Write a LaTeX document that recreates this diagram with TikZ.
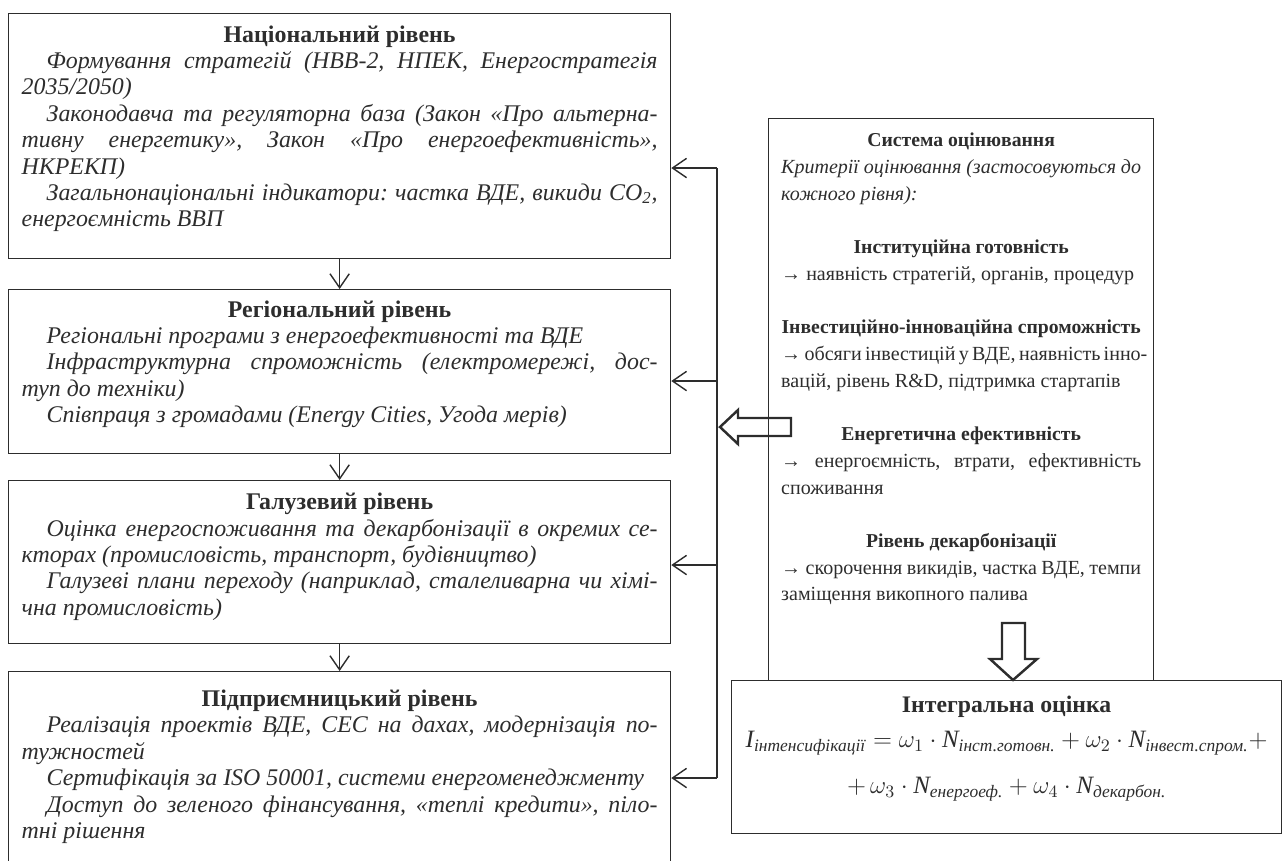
\RequirePackage{fix-cm}
\documentclass[tikz,border=0pt]{standalone}
\usepackage{fontspec}
\setmainfont{Liberation Serif}
\usepackage{amsmath}
\usetikzlibrary{arrows.meta}

\definecolor{ink}{RGB}{45,45,45}

\newcommand{\levelfont}{\fontsize{13.6}{15}\selectfont\frenchspacing\setlength{\parindent}{0.5cm}}
\newcommand{\critfont}{\fontsize{11.4}{15.2}\selectfont\frenchspacing\setlength{\parindent}{0pt}}
\newcommand{\lvtitle}[1]{{\centering\noindent\bfseries\upshape #1\par}}
\newcommand{\crtitle}[1]{{\centering\noindent\fontsize{11.2}{15.2}\selectfont\bfseries #1\par}}
\newcommand{\fullline}[1]{\makebox[\linewidth][s]{#1}\par}
\newcommand{\gap}{\par\vspace{15.2pt}}
\newcommand{\sub}[1]{_{\textit{#1}}}

\tikzset{
  level/.style={draw=ink, text=ink, rectangle, anchor=north west, minimum width=13.24cm,
    text width=12.72cm, inner xsep=0.26cm, inner ysep=0pt, align=justify, font=\levelfont\itshape},
  critbox/.style={draw=ink, text=ink, rectangle, anchor=north west, minimum width=7.7cm,
    text width=7.2cm, inner xsep=0.25cm, inner ysep=0pt, align=justify, font=\critfont},
  intbox/.style={draw=ink, text=ink, rectangle, anchor=north west, minimum width=11cm,
    inner ysep=0pt, align=center, font=\fontsize{14.2}{18}\selectfont},
  flow/.style={draw=ink, line width=0.8pt, -{Straight Barb[length=8pt,width=11pt]}},
  bus/.style={draw=ink, line width=0.8pt},
  hollow/.style={draw=ink, line width=1.4pt, line join=miter}
}

\begin{document}
\begin{tikzpicture}[x=0.02cm, y=-0.02cm, line width=0.8pt]
  \useasboundingbox (0,0) rectangle (1287,860);

  % levels
  \node[level, minimum height=4.9cm] (nat) at (8,13) {\lvtitle{Національний рівень}
    Формування стратегій (НВВ-2, НПЕК, Енергостратегія\linebreak 2035/2050)\par
    Законодавча та регуляторна база (Закон «Про альтерна-\linebreak тивну енергетику», Закон «Про енергоефективність»,\linebreak НКРЕКП)\par
    Загальнонаціональні індикатори: частка ВДЕ, викиди CO\textsubscript{2},\linebreak енергоємність ВВП\rule[-0.4cm]{0pt}{0.4cm}\par};
  \node[level, minimum height=3.28cm] (reg) at (8,289) {\lvtitle{Регіональний рівень}
    Регіональні програми з енергоефективності та ВДЕ\par
    Інфраструктурна спроможність (електромережі, дос-\linebreak туп до техніки)\par
    Співпраця з громадами (Energy Cities, Угода мерів)\rule[-0.4cm]{0pt}{0.4cm}\par};
  \node[level, minimum height=3.26cm] (gal) at (8,480) {\lvtitle{Галузевий рівень}
    Оцінка енергоспоживання та декарбонізації в окремих се-\linebreak кторах (промисловість, транспорт, будівництво)\par
    Галузеві плани переходу (наприклад, сталеливарна чи хімі-\linebreak чна промисловість)\rule[-0.32cm]{0pt}{0.32cm}\par};
  \node[level, minimum height=3.82cm] (ent) at (8,671) {\lvtitle{Підприємницький рівень}
    Реалізація проектів ВДЕ, СЕС на дахах, модернізація по-\linebreak тужностей\par
    Сертифікація за ISO 50001, системи енергоменеджменту\par
    Доступ до зеленого фінансування, «теплі кредити», піло-\linebreak тні рішення\rule[-0.12cm]{0pt}{0.12cm}\par};

  \draw[flow] (nat) -- (reg);
  \draw[flow] (reg) -- (gal);
  \draw[flow] (gal) -- (ent);

  % criteria
  \node[critbox, minimum height=11.24cm] (crit) at (768,118) {\crtitle{Система оцінювання}
    \fullline{\itshape Критерії оцінювання (застосовуються до}
    {\itshape кожного рівня):\par}\gap
    \crtitle{Інституційна готовність}
    → наявність стратегій, органів, процедур\gap
    \crtitle{Інвестиційно-інноваційна спроможність}
    \fullline{→ обсяги інвестицій у ВДЕ, наявність інно-}
    вацій, рівень R\&D, підтримка стартапів\gap
    \crtitle{Енергетична ефективність}
    \fullline{→ енергоємність, втрати, ефективність}
    споживання\gap
    \crtitle{Рівень декарбонізації}
    \fullline{→ скорочення викидів, частка ВДЕ, темпи}
    заміщення викопного палива\rule[-1.3cm]{0pt}{1.3cm}\par};

  \node[intbox, minimum height=3.06cm] (intg) at (731,680) {{\fontsize{13.5}{18}\selectfont\bfseries Інтегральна оцінка}\\[2pt]
    $\textit{I}\sub{інтенсифікації} = \omega_1\cdot \textit{N}\sub{інст.готовн.} + \omega_2\cdot \textit{N}\sub{інвест.спром.} +$\\[8pt]
    $+\,\omega_3\cdot \textit{N}\sub{енергоеф.} + \omega_4\cdot \textit{N}\sub{декарбон.}$\rule[-0.5cm]{0pt}{0.5cm}};

  % feedback to every level
  \coordinate (b1) at (717,168);
  \coordinate (b2) at (717,381);
  \coordinate (b3) at (717,565);
  \coordinate (b4) at (717,778);
  \draw[bus] (b1) -- (b4);
  \draw[flow] (b1) -- (b1 -| nat.east);
  \draw[flow] (b2) -- (b2 -| reg.east);
  \draw[flow] (b3) -- (b3 -| gal.east);
  \draw[flow] (b4) -- (b4 -| ent.east);

  % hollow arrows
  \draw[hollow] (791,418) -- (738,418) -- (738,410) -- (720,427) -- (738,444) -- (738,436) -- (791,436) -- cycle;
  \draw[hollow] (1002,623) -- (1025,623) -- (1025,659) -- (1037,659) -- (1013,680) -- (990,659) -- (1002,659) -- cycle;
\end{tikzpicture}
\end{document}
